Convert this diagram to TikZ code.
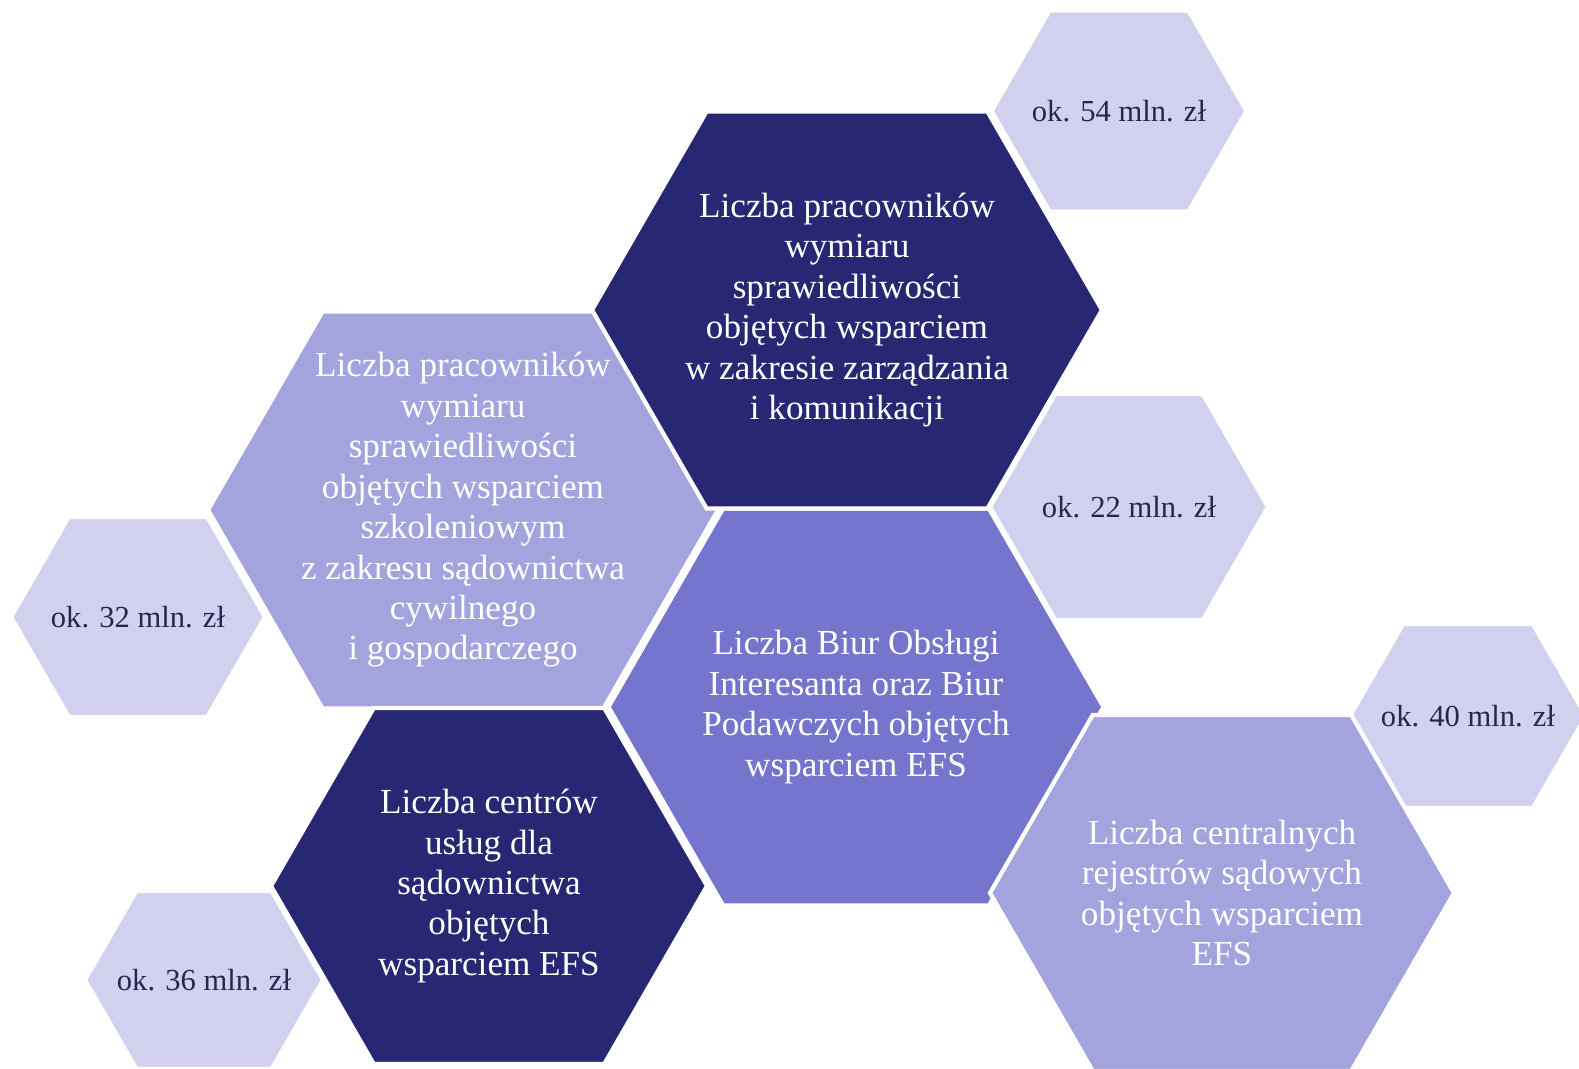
\documentclass[tikz,border=0pt]{standalone}
\usepackage{fontspec}
\setmainfont{Liberation Serif}
\usetikzlibrary{shapes.symbols}
\definecolor{navy}{HTML}{272773}
\definecolor{mauve}{HTML}{7575CE}
\definecolor{lilac}{HTML}{A3A3DD}
\definecolor{pale}{HTML}{D1D1EF}
\definecolor{ink}{HTML}{25254F}
\begin{document}
\begin{tikzpicture}[hex/.style={signal, signal to=east and west, signal pointer angle=120, draw=white, line width=1.2pt, inner sep=0pt},
    big/.style={hex, minimum width=5.1cm, minimum height=3.97cm},
    txt/.style={text=white, align=center, font=\fontsize{10}{11.5}\selectfont},
    amount/.style={text=ink, font=\fontsize{8.7}{10.4}\selectfont}]
    \useasboundingbox (0,0) rectangle (15.79,-10.69);

    % small hexagons with the amounts
    \node [hex, fill=pale, minimum width=2.55cm, minimum height=2.01cm] (s54) at (11.19,-1.11) {};
    \node [hex, fill=pale, minimum width=2.78cm, minimum height=2.26cm] (s22) at (11.29,-5.07) {};
    \node [hex, fill=pale, minimum width=2.54cm, minimum height=2.00cm] (s32) at (1.38,-6.17) {};
    \node [hex, fill=pale, minimum width=2.38cm, minimum height=1.78cm] (s36) at (2.04,-9.80) {};
    \node [hex, fill=pale, minimum width=2.36cm, minimum height=1.84cm] (s40) at (14.68,-7.16) {};

    % big hexagons
    \node [big, fill=lilac] (h2) at (4.63,-5.10) {};
    \node [big, fill=mauve, minimum width=4.95cm] (h3) at (8.56,-7.07) {};
    \node [hex, fill=navy, minimum width=4.36cm, minimum height=3.56cm] (h4) at (4.89,-8.86) {};
    \node [hex, fill=lilac, minimum width=4.64cm, minimum height=3.56cm] (h5) at (12.22,-8.93) {};
    \node [big, fill=navy] (h1) at (8.47,-3.10) {};

    \node [txt] (t1) at (h1.center) {Liczba pracowników\\wymiaru\\sprawiedliwości\\objętych wsparciem\\w zakresie zarządzania\\i komunikacji};
    \node [txt] (t2) at (h2.center) {Liczba pracowników\\wymiaru\\sprawiedliwości\\objętych wsparciem\\szkoleniowym\\z zakresu sądownictwa\\cywilnego\\i gospodarczego};
    \node [txt] (t3) at (h3.center) {Liczba Biur Obsługi\\Interesanta oraz Biur\\Podawczych objętych\\wsparciem EFS};
    \node [txt] (t4) at (h4.center) {Liczba centrów\\usług dla\\sądownictwa\\objętych\\wsparciem EFS};
    \node [txt] (t5) at (h5.center) {Liczba centralnych\\rejestrów sądowych\\objętych wsparciem\\EFS};

    \node [amount] (a54) at (s54.center) {ok. 54 mln. zł};
    \node [amount] (a22) at (s22.center) {ok. 22 mln. zł};
    \node [amount] (a32) at (s32.center) {ok. 32 mln. zł};
    \node [amount] (a36) at (s36.center) {ok. 36 mln. zł};
    \node [amount] (a40) at (s40.center) {ok. 40 mln. zł};
\end{tikzpicture}
\end{document}
